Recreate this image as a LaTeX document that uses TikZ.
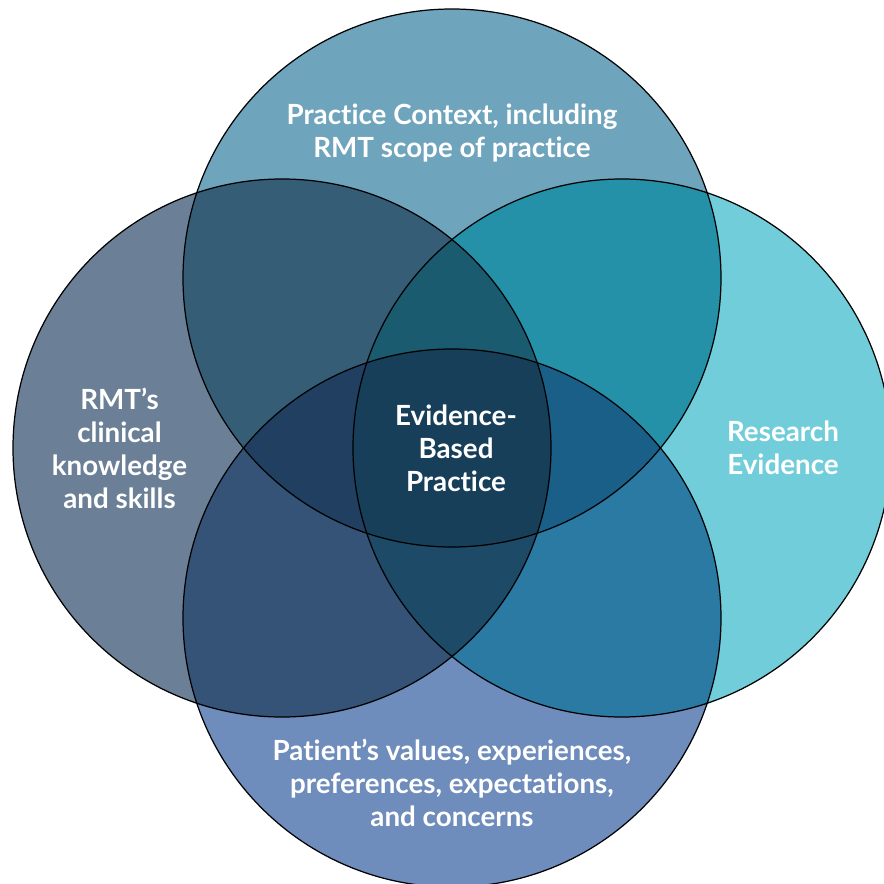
\documentclass[tikz,border=0pt]{standalone}
\usepackage{fontspec}
\setmainfont{Lato}[Ligatures=NoCommon]
\usetikzlibrary{positioning}

% fills of the single circles
\definecolor{ctxcol}{HTML}{6FA4BD}
\definecolor{rmtcol}{HTML}{6B8097}
\definecolor{rescol}{HTML}{72CDDB}
\definecolor{patcol}{HTML}{6E8CBC}
% two-way overlaps
\definecolor{ctxrmt}{HTML}{365D76}
\definecolor{ctxres}{HTML}{2491A8}
\definecolor{rmtpat}{HTML}{355376}
\definecolor{respat}{HTML}{2A7AA3}
% three-way overlaps and centre
\definecolor{ctxrmtres}{HTML}{1B5B6F}
\definecolor{ctxrmtpat}{HTML}{213F61}
\definecolor{ctxrespat}{HTML}{195F88}
\definecolor{rmtrespat}{HTML}{1C4A67}
\definecolor{allfour}{HTML}{183F5A}

\tikzset{
  venntext/.style={text=white, font=\bfseries\fontsize{15.8}{18.8}\selectfont, align=center},
  vennline/.style={draw=black, line width=0.7pt}
}

\begin{document}
\begin{tikzpicture}
\useasboundingbox (-9.04,-8.72) rectangle (8.64,8.96);

% circle centres
\coordinate (ctx) at (0,3.4);
\coordinate (rmt) at (-3.4,0);
\coordinate (res) at (3.4,0);
\coordinate (pat) at (0,-3.4);
\def\rad{5.38}

% Single circles
\fill[ctxcol] (ctx) circle (\rad);
\fill[rmtcol] (rmt) circle (\rad);
\fill[rescol] (res) circle (\rad);
\fill[patcol] (pat) circle (\rad);

% Two-way overlaps
\begin{scope}
\clip (ctx) circle (\rad);
\fill[ctxrmt] (rmt) circle (\rad);
\fill[ctxres] (res) circle (\rad);
\end{scope}
\begin{scope}
\clip (pat) circle (\rad);
\fill[rmtpat] (rmt) circle (\rad);
\fill[respat] (res) circle (\rad);
\end{scope}

% Three-way overlaps
\begin{scope}
\clip (ctx) circle (\rad);
\clip (rmt) circle (\rad);
\fill[ctxrmtres] (res) circle (\rad);
\fill[ctxrmtpat] (pat) circle (\rad);
\end{scope}
\begin{scope}
\clip (res) circle (\rad);
\clip (pat) circle (\rad);
\fill[ctxrespat] (ctx) circle (\rad);
\fill[rmtrespat] (rmt) circle (\rad);
\end{scope}

% Centre
\begin{scope}
\clip (ctx) circle (\rad);
\clip (rmt) circle (\rad);
\clip (res) circle (\rad);
\fill[allfour] (pat) circle (\rad);
\end{scope}

% Outlines
\foreach \c in {ctx,rmt,res,pat} {
    \draw[vennline] (\c) circle (\rad);
}

% Labels
\node[venntext] (ctxlbl) at (0,6.3) {Practice Context, including\\RMT scope of practice};
\node[venntext] (rmtlbl) at (-6.65,0) {RMT’s\\clinical\\knowledge\\and skills};
\node[venntext] (reslbl) at (6.62,0) {Research\\Evidence};
\node[venntext] (patlbl) at (0,-6.7) {Patient’s values, experiences,\\preferences, expectations,\\and concerns};
\node[venntext] (ebplbl) at (0.08,0) {Evidence-\\Based\\Practice};
\end{tikzpicture}
\end{document}
